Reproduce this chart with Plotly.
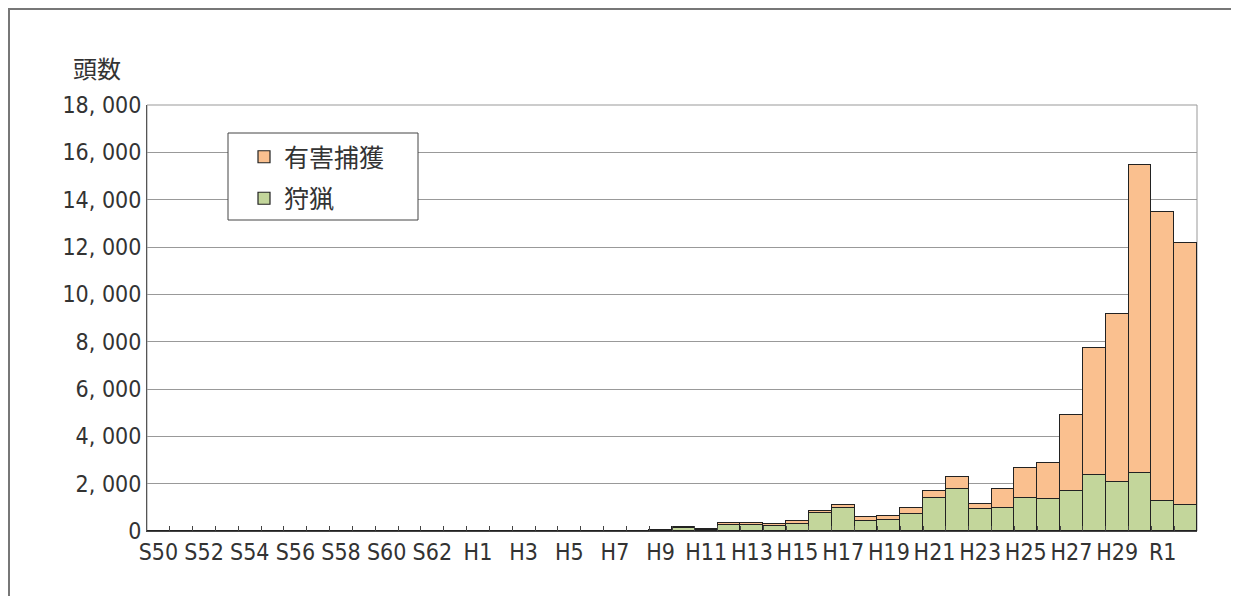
import plotly.graph_objects as go

# categories: S50..S63, H1..H30, R1, R2
categories = ([f"S{n}" for n in range(50, 64)] +
              [f"H{n}" for n in range(1, 31)] +
              ["R1", "R2"])

# 狩猟 (hunting)
hunting = [0, 0, 0, 20, 20, 20, 20, 20, 20, 20, 20, 0, 20, 20,
           20, 20, 20, 20, 20, 20, 20, 20, 30, 140, 50, 240, 240, 210,
           300, 770, 960, 430, 480, 730, 1410, 1760, 920, 990, 1410, 1340,
           1690, 2370, 2050, 2470, 1270, 1090]

# 有害捕獲 (nuisance control)
nuisance = [0, 0, 0, 0, 0, 0, 0, 0, 0, 0, 0, 0, 0, 0,
            0, 0, 0, 0, 0, 0, 0, 0, 20, 30, 20, 80, 80, 70,
            140, 90, 140, 170, 160, 260, 280, 530, 240, 780, 1270, 1550,
            3230, 5350, 7120, 12990, 12220, 11100]

y_tickvals = list(range(0, 18001, 2000))
y_ticktext = [f"{v:,}".replace(",", ", ") for v in y_tickvals]
x_ticktext = [c if i % 2 == 0 else "" for i, c in enumerate(categories)]

FONT = "DejaVu Sans Condensed, Noto Sans CJK JP, sans-serif"
CJK = "Noto Sans CJK JP, sans-serif"

# page has an 8px body margin; plot area should sit at x 147..1197, y 105..531
OFF = 8
W, H = 1239 - OFF, 596 - OFF
L, T = 147 - OFF, 105 - OFF
PW, PH = 1050, 426


def px(x):
    return (x - 147) / PW


def py(y):
    return (531 - y) / PH


fig = go.Figure()
fig.add_trace(go.Bar(x=categories, y=hunting, name="狩猟", legendrank=2,
                     legendgroup="g2",
                     marker=dict(color="#C3D69B", line=dict(color="#222", width=1.2))))
fig.add_trace(go.Bar(x=categories, y=nuisance, name="有害捕獲", legendrank=1,
                     legendgroup="g1",
                     marker=dict(color="#FAC08F", line=dict(color="#222", width=1.2))))

fig.update_layout(
    width=W, height=H, autosize=False,
    margin=dict(l=L, r=W - L - PW, t=T, b=H - T - PH),
    barmode="stack", bargap=0,
    plot_bgcolor="white", paper_bgcolor="white",
    font=dict(family=FONT, size=23, color="#333"),
    legend=dict(x=px(244), y=py(134), xanchor="left", yanchor="top",
                borderwidth=0, bgcolor="rgba(0,0,0,0)",
                font=dict(family=CJK, size=25, color="#333"),
                traceorder="grouped", tracegroupgap=6),
    xaxis=dict(type="category", tickmode="array", tickvals=categories,
               ticktext=x_ticktext, ticks="inside", tickson="boundaries",
               ticklen=5, tickcolor="#444", tickangle=0, showline=True,
               linecolor="#444", linewidth=1, showgrid=False),
    yaxis=dict(range=[0, 18000], tickmode="array", tickvals=y_tickvals,
               ticktext=y_ticktext, showgrid=True, gridcolor="#999",
               gridwidth=1, showline=True, linecolor="#555", linewidth=1,
               ticks="", zeroline=False),
    annotations=[dict(text="頭数", xref="paper", yref="paper",
                      x=px(97), y=py(67), xanchor="center", yanchor="middle",
                      showarrow=False,
                      font=dict(family=CJK, size=24, color="#333"))],
    shapes=[
        dict(type="rect", xref="paper", yref="paper", x0=0, x1=1, y0=0, y1=1,
             line=dict(color="#999", width=1), layer="below"),
        dict(type="rect", xref="paper", yref="paper",
             x0=px(228), x1=px(418), y0=py(220), y1=py(133),
             line=dict(color="#444", width=1), fillcolor="white", layer="above"),
        dict(type="rect", xref="paper", yref="paper",
             x0=px(9), x1=px(1236), y0=py(610), y1=py(9),
             line=dict(color="#777", width=2)),
    ],
)

fig.write_html("out.html")
